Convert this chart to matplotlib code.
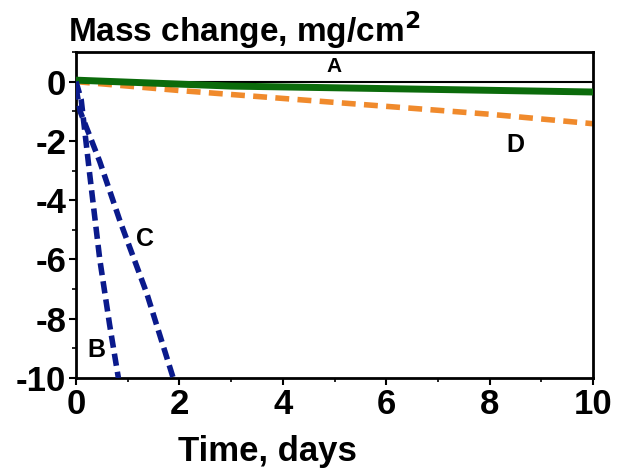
import matplotlib
matplotlib.use("Agg")
import matplotlib.pyplot as plt
from matplotlib.ticker import MultipleLocator

plt.rcParams['font.family'] = ['Liberation Sans', 'DejaVu Sans']
plt.rcParams['font.weight'] = 'bold'
plt.rcParams['axes.unicode_minus'] = False

# curve A (green, nearly flat)
a_days = [0, 3, 10]
a_mass = [0.05, -0.15, -0.35]

# curve B (fast loss)
b_days = [0, 0.1, 0.27, 0.46, 0.65, 0.82]
b_mass = [0.0, -0.6, -3.2, -6.0, -8.2, -10.0]

# curve C
c_days = [0, 0.08, 0.46, 0.85, 1.37, 1.88]
c_mass = [-0.2, -1.0, -2.7, -4.7, -7.15, -10.0]

# curve D (orange)
d_days = [0, 2, 5, 8, 10]
d_mass = [0.0, -0.3, -0.7, -1.1, -1.42]

fig = plt.figure(figsize=(6.18, 4.73), dpi=100)
ax = fig.add_axes([76/618, 1 - 378/473, 517/618, 326/473])

ax.axhline(0, color='black', lw=1.5, zorder=1)
ax.plot(d_days, d_mass, color='#f08a2c', lw=4, ls=(0, (2.5, 1.5)), zorder=2)
ax.plot(a_days, a_mass, color='#0b6b0b', lw=5, zorder=3)
ax.plot(b_days, b_mass, color='#0a1a8c', lw=4, ls=(0, (2.2, 1.1)), zorder=4)
ax.plot(c_days, c_mass, color='#0a1a8c', lw=4, ls=(0, (2.2, 1.1)), zorder=4)

ax.text(5, 0.5, 'A', fontsize=15, fontweight='bold', ha='center', va='center')
ax.text(0.4, -9.05, 'B', fontsize=18, fontweight='bold', ha='center', va='center')
ax.text(1.33, -5.3, 'C', fontsize=18, fontweight='bold', ha='center', va='center')
ax.text(8.5, -2.15, 'D', fontsize=18, fontweight='bold', ha='center', va='center')

ax.set_xlim(0, 10)
ax.set_ylim(-10, 1)
ax.set_xticks([0, 2, 4, 6, 8, 10])
ax.set_yticks([0, -2, -4, -6, -8, -10])
ax.xaxis.set_minor_locator(MultipleLocator(1))
ax.yaxis.set_minor_locator(MultipleLocator(1))
ax.tick_params(which='major', length=5, width=1.5, labelsize=25, pad=2)
ax.tick_params(which='minor', length=3, width=1.2)
for s in ax.spines.values():
    s.set_linewidth(2)

fig.text(267/618, 1 - 468/473, 'Time, days', fontsize=25, fontweight='bold',
         ha='center', va='bottom')
fig.text(68/618, 1 - 42/473, 'Mass change, mg/cm$^\\mathbf{2}$', fontsize=24,
         fontweight='bold', ha='left', va='baseline')

fig.savefig('out.png', dpi=100)
